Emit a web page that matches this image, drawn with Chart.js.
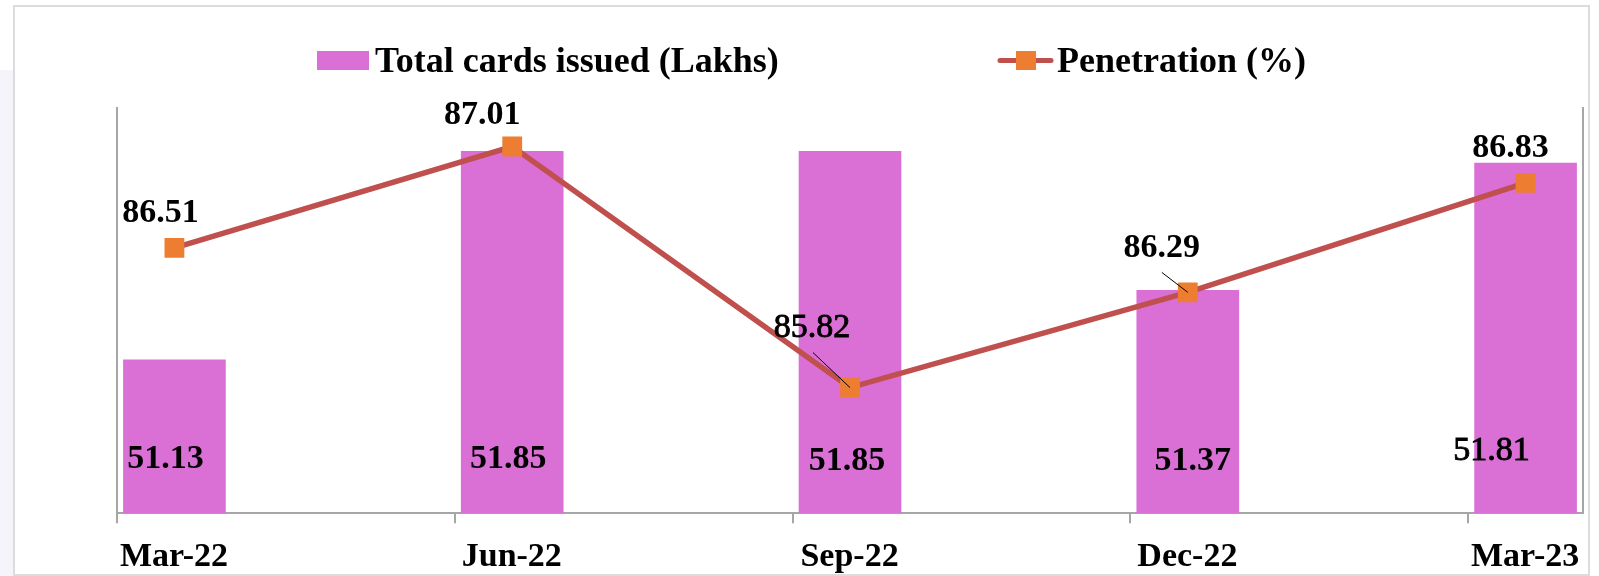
<!DOCTYPE html>
<html>
<head>
<meta charset="utf-8">
<title>Cards issued and penetration</title>
<script src="https://cdn.jsdelivr.net/npm/chart.js@4.4.0/dist/chart.umd.min.js"></script>
<style>
    body { margin: 0; background: #fff; overflow: hidden; }
    .strip { position: absolute; left: 0; top: 70px; width: 13px; height: 506px; background: #f6f4fb; }
    .frame { position: absolute; left: 13px; top: 5px; width: 1573px; height: 567px; border: 2px solid #dcdcdc; }
    .wrap { position: absolute; left: 0; top: 0; width: 1599px; height: 576px; }
</style>
</head>
<body>
<div class="strip"></div>
<div class="frame"></div>
<div class="wrap"><canvas id="cardsChart"></canvas></div>
<script>
const quarters = ['Mar-22', 'Jun-22', 'Sep-22', 'Dec-22', 'Mar-23'];
const cardsIssued = [51.13, 51.85, 51.85, 51.37, 51.81];
const penetration = [86.51, 87.01, 85.82, 86.29, 86.83];

const SERIF = '"Liberation Serif", "DejaVu Serif", serif';
const AXIS_GREY = '#a6a6a6';

// Value labels sit where they were dragged by hand, so each one has its own shift.
// Bar labels are measured up from the bar foot, line labels from the marker.
const labelLayout = {
    bar: {
        shifts: [[-9, -54], [-4, -54], [-3, -52], [5, -52], [-34, -62]],
        weights: ['bold', 'bold', 'bold', 'bold', 'normal'],
        leaders: [null, null, null, null, null]
    },
    line: {
        shifts: [[-14, -35], [-30, -31], [-38, -60], [-26, -44], [-15, -35]],
        weights: ['bold', 'bold', 'normal', 'bold', 'bold'],
        leaders: [null, null, [-37, -35], [-26, -20], null]
    }
};

const valueLabels = {
    id: 'valueLabels',
    afterDatasetsDraw(chart) {
        const ctx = chart.ctx;
        ctx.save();
        ctx.textAlign = 'center';
        ctx.textBaseline = 'middle';
        chart.data.datasets.forEach((ds, di) => {
            const set = labelLayout[ds.type];
            const meta = chart.getDatasetMeta(di);
            const scale = chart.scales[ds.yAxisID];
            meta.data.forEach((el, i) => {
                const anchorX = el.x;
                const anchorY = ds.type === 'bar' ? scale.getPixelForValue(scale.min) : el.y;
                const leader = set.leaders[i];
                if (leader) {
                    ctx.strokeStyle = '#000';
                    ctx.lineWidth = 1;
                    ctx.beginPath();
                    ctx.moveTo(anchorX + leader[0], anchorY + leader[1]);
                    ctx.lineTo(anchorX, anchorY);
                    ctx.stroke();
                }
                const text = ds.data[i].y.toFixed(2);
                const tx = anchorX + set.shifts[i][0];
                const ty = anchorY + set.shifts[i][1];
                ctx.fillStyle = '#000';
                ctx.font = set.weights[i] + ' 34px ' + SERIF;
                ctx.fillText(text, tx, ty);
                if (set.weights[i] === 'normal') {
                    // the regular face is a bit thin next to the bold ones
                    ctx.strokeStyle = '#000';
                    ctx.lineWidth = 0.9;
                    ctx.strokeText(text, tx, ty);
                }
            });
        });
        ctx.restore();
    }
};

// Legend row across the top: swatch for the bars, line + marker for the line
const legendPos = { barX: 317, lineX: 998, midY: 60.5, baseline: 72 };

const legendRow = {
    id: 'legendRow',
    afterDraw(chart) {
        const ctx = chart.ctx;
        const [bars, line] = chart.data.datasets;
        const p = legendPos;
        ctx.save();
        ctx.font = 'bold 36px ' + SERIF;
        ctx.textBaseline = 'alphabetic';

        ctx.fillStyle = bars.backgroundColor;
        ctx.fillRect(p.barX, p.midY - 9.5, 52, 19);
        ctx.fillStyle = '#000';
        ctx.fillText(bars.label, p.barX + 58, p.baseline);

        ctx.strokeStyle = line.borderColor;
        ctx.lineWidth = 5;
        ctx.lineCap = 'round';
        ctx.beginPath();
        ctx.moveTo(p.lineX + 2, p.midY);
        ctx.lineTo(p.lineX + 53, p.midY);
        ctx.stroke();
        ctx.fillStyle = line.pointBackgroundColor;
        ctx.fillRect(p.lineX + 18, p.midY - 9.5, 20, 19);
        ctx.fillStyle = '#000';
        ctx.fillText(line.label, p.lineX + 59, p.baseline);
        ctx.restore();
    }
};

const ctx = document.getElementById('cardsChart').getContext('2d');
new Chart(ctx, {
    type: 'bar',
    data: {
        datasets: [{
            type: 'bar',
            label: 'Total cards issued (Lakhs)',
            data: cardsIssued.map((v, i) => ({ x: i, y: v })),
            backgroundColor: '#da70d6',
            barThickness: 102,
            yAxisID: 'y',
            order: 1
        }, {
            type: 'line',
            label: 'Penetration (%)',
            data: penetration.map((v, i) => ({ x: i, y: v })),
            borderColor: '#c0504d',
            borderWidth: 5.5,
            pointStyle: 'rect',
            pointRadius: 14,
            pointBackgroundColor: '#ed7d31',
            pointBorderColor: '#ed7d31',
            pointBorderWidth: 0,
            tension: 0,
            yAxisID: 'y1',
            order: 0
        }]
    },
    options: {
        responsive: true,
        maintainAspectRatio: false,
        animation: false,
        layout: {
            // negative bottom lets the quarter labels sit close to the frame edge
            padding: { left: 117, right: 16, top: 108, bottom: -16 }
        },
        plugins: {
            legend: { display: false },
            tooltip: { enabled: false }
        },
        scales: {
            x: {
                type: 'linear',
                min: -0.17,
                max: 4.17,
                offset: false,
                afterBuildTicks: scale => {
                    // tick marks sit just left of each bar, labels are shifted under the bar
                    scale.ticks = quarters.map((q, i) => ({ value: i - 0.17 }));
                },
                ticks: {
                    callback: (value, index) => quarters[index],
                    labelOffset: 57,
                    padding: 14,
                    autoSkip: false,
                    maxRotation: 0,
                    color: '#000',
                    font: { family: SERIF, size: 34, weight: 'bold' }
                },
                grid: {
                    display: true,
                    offset: false,
                    drawOnChartArea: false,
                    drawTicks: true,
                    tickLength: 10,
                    color: AXIS_GREY,
                    lineWidth: 2
                },
                border: { display: true, color: AXIS_GREY, width: 2 }
            },
            y: {
                position: 'left',
                min: 50.6,
                max: 52.0,
                ticks: { display: false },
                grid: { display: false, drawTicks: false },
                border: { display: true, color: AXIS_GREY, width: 2 }
            },
            y1: {
                position: 'right',
                min: 85.2,
                max: 87.2,
                ticks: { display: false },
                grid: { display: false, drawTicks: false },
                border: { display: true, color: AXIS_GREY, width: 2 }
            }
        }
    },
    plugins: [valueLabels, legendRow]
});
</script>
</body>
</html>
